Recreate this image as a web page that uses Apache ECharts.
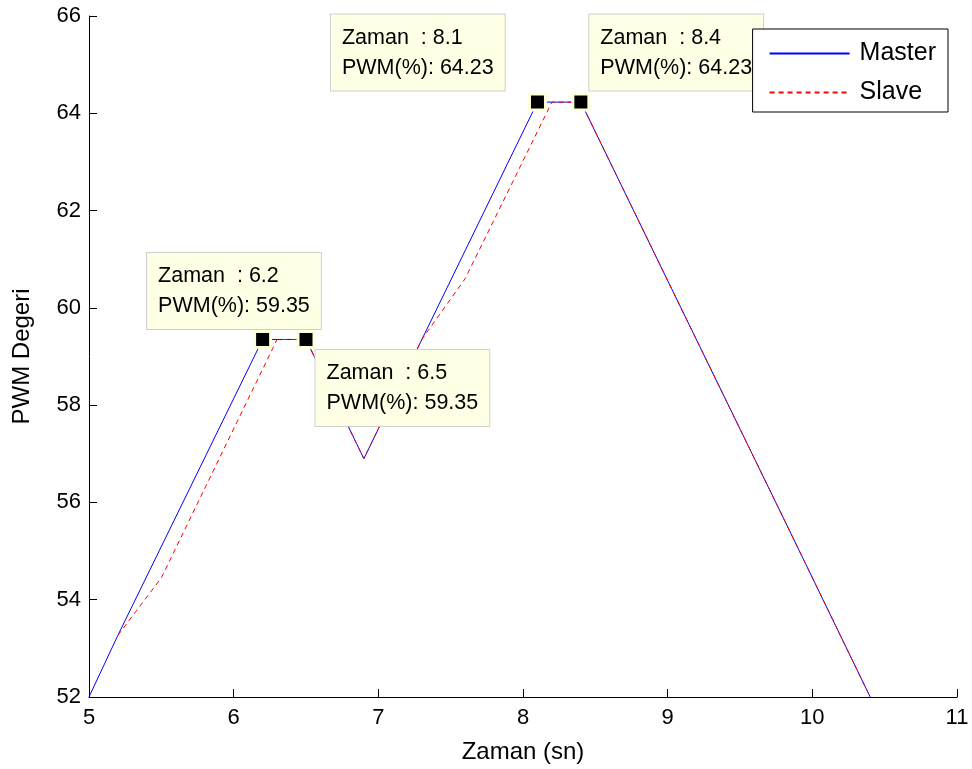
<!DOCTYPE html>
<html>
<head>
<meta charset="utf-8">
<script src="https://cdn.jsdelivr.net/npm/echarts@6/dist/echarts.min.js"></script>
<style>
  html, body { margin: 0; padding: 0; background: #fff; }
  #chart { width: 972px; height: 769px; }
</style>
</head>
<body>
<div id="chart"></div>
<script>
// Master PWM signal: [time (s), PWM (%)]
const masterTime = [5, 5.2, 6.2, 6.5, 6.9, 8.1, 8.4, 9.0, 9.8, 10.4];
const masterPwm  = [52, 53.27, 59.35, 59.35, 56.9, 64.23, 64.23, 60.56, 55.68, 52];

// Slave PWM signal (follows master with a lag on the rising edges)
const slaveTime = [5.2, 5.5, 6.3, 6.5, 6.9, 7.3, 7.6, 8.2, 8.4, 9.0, 9.8, 10.4];
const slavePwm  = [53.27, 54.45, 59.35, 59.35, 56.9, 59.35, 60.6, 64.23, 64.23, 60.56, 55.68, 52];

// Data tips placed on the master curve
const tipTime = [6.2, 6.5, 8.1, 8.4];
const tipPwm  = [59.35, 59.35, 64.23, 64.23];

// Axis ticks
const xTicks = [5, 6, 7, 8, 9, 10, 11];
const yTicks = [52, 54, 56, 58, 60, 62, 64, 66];

const pairs = (xs, ys) => xs.map((x, i) => [x, ys[i]]);

const FONT = '"Liberation Sans", Arial, Helvetica, sans-serif';

// Top-left corner of each data tip box, relative to its marker's bounding box
const tipPositions = [[-106, -77], [19, 20], [-197, -78], [18, -78]];

const chart = echarts.init(document.getElementById('chart'), null, { renderer: 'canvas' });

chart.setOption({
  animation: false,
  backgroundColor: '#ffffff',
  textStyle: { fontFamily: FONT },
  grid: { left: 89, top: 16, right: 15, bottom: 72, containLabel: false },
  legend: {
    right: 24, top: 29,
    orient: 'vertical',
    data: ['Master', 'Slave'],
    backgroundColor: '#ffffff',
    borderColor: '#000000',
    borderWidth: 1,
    borderRadius: 0,
    padding: [12, 12, 7, 16],
    itemWidth: 80,
    itemHeight: 14,
    itemGap: 14,
    itemStyle: { opacity: 0 },
    z: 10,
    textStyle: { fontSize: 25, lineHeight: 25, color: '#000', fontFamily: FONT, padding: [0, 0, 0, 5] }
  },
  xAxis: {
    type: 'value',
    min: xTicks[0], max: xTicks[xTicks.length - 1], interval: 1,
    name: 'Zaman (sn)',
    nameLocation: 'middle',
    nameGap: 43,
    nameTextStyle: { fontSize: 24, color: '#000', fontFamily: FONT },
    axisLine: { lineStyle: { color: '#000', width: 1 } },
    axisTick: { inside: true, length: 8, lineStyle: { color: '#000' } },
    axisLabel: { fontSize: 22, color: '#000', margin: 10, fontFamily: FONT },
    splitLine: { show: false }
  },
  yAxis: {
    type: 'value',
    min: yTicks[0], max: yTicks[yTicks.length - 1], interval: 2,
    name: 'PWM Degeri',
    nameLocation: 'middle',
    nameGap: 55,
    nameTextStyle: { fontSize: 24, color: '#000', fontFamily: FONT },
    axisLine: { show: true, lineStyle: { color: '#000', width: 1 } },
    axisTick: { show: true, inside: true, length: 8, lineStyle: { color: '#000' } },
    axisLabel: { fontSize: 22, color: '#000', margin: 8, fontFamily: FONT },
    splitLine: { show: false }
  },
  series: [
    {
      name: 'Master',
      type: 'line',
      data: pairs(masterTime, masterPwm),
      symbol: 'none',
      lineStyle: { color: '#0000ff', width: 1 },
      itemStyle: { color: '#0000ff' },
      z: 2
    },
    {
      name: 'Slave',
      type: 'line',
      data: pairs(slaveTime, slavePwm),
      symbol: 'none',
      lineStyle: { color: '#ff0000', width: 1, type: [5, 4] },
      itemStyle: { color: '#ff0000' },
      z: 3
    },
    {
      name: 'tips',
      type: 'scatter',
      data: pairs(tipTime, tipPwm).map((p, i) => ({
        value: p,
        label: { position: tipPositions[i] }
      })),
      symbol: 'rect',
      symbolSize: 16,
      itemStyle: { color: '#000', borderColor: '#ffffdc', borderWidth: 3, opacity: 1 },
      z: 4,
      label: {
        show: true,
        align: 'left',
        verticalAlign: 'top',
        backgroundColor: '#ffffe6',
        borderColor: '#cfcfcf',
        borderWidth: 1,
        padding: [8, 11, 8, 11],
        fontSize: 21.5,
        lineHeight: 30,
        color: '#000',
        fontFamily: FONT,
        formatter: (p) => 'Zaman  : ' + p.value[0] + '\nPWM(%): ' + p.value[1].toFixed(2)
      },
      emphasis: { disabled: true },
      silent: true
    }
  ]
});
</script>
</body>
</html>
